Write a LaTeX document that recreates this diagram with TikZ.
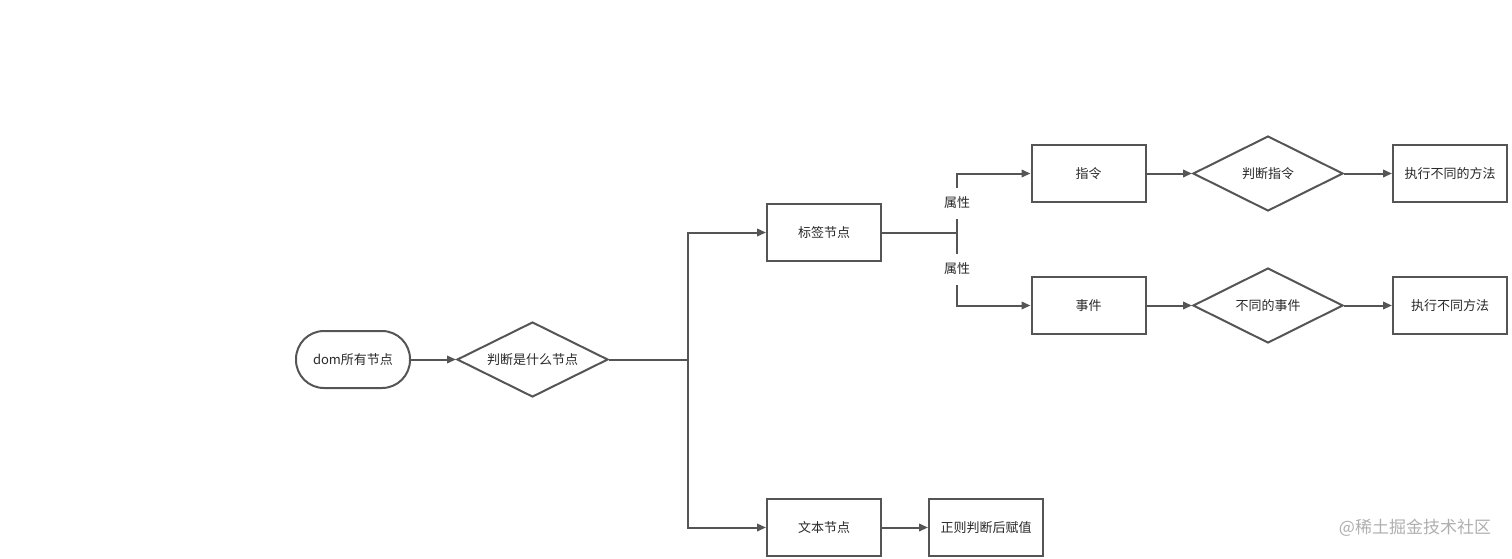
\documentclass[tikz,border=0pt]{standalone}
\usepackage{fontspec}
\setmainfont{Noto Sans CJK SC}
\usetikzlibrary{arrows.meta, positioning, shapes.geometric}
\definecolor{linecolor}{RGB}{85, 85, 85}
\definecolor{textcolor}{RGB}{40, 40, 40}
\definecolor{markcolor}{RGB}{175, 175, 175}
\tikzset{
	baseblock/.style={
		rectangle, minimum width=114pt, minimum height=57pt,
		align=center, font=\fontsize{13}{15}\selectfont, text=textcolor,
		draw=linecolor, line width=2pt, inner sep=0pt
	},
	startblock/.style={
		baseblock, rounded corners=28pt
	},
	choiceblock/.style={
		diamond, minimum width=151pt, minimum height=75pt, aspect=2,
		font=\fontsize{13}{15}\selectfont, text=textcolor,
		draw=linecolor, line width=2pt, inner sep=0pt
	},
	arrow/.style={
		-{Triangle[length=9pt, width=7.5pt]}, line width=2pt, color=linecolor
	},
	plainline/.style={
		line width=2pt, color=linecolor
	},
	attrlabel/.style={
		fill=white, inner sep=0pt, minimum height=31pt,
		font=\fontsize{13}{15}\selectfont, text=textcolor
	}
}

\begin{document}
\begin{tikzpicture}[x=1pt, y=-1pt]
		\useasboundingbox (0,0) rectangle (1512,558);
		
		%% ═══════════════════════════════
		%%  START + FIRST CHOICE
		%% ═══════════════════════════════
		\node[startblock] (domall) at (353,359.5) {dom所有节点};
		\node[choiceblock] (nodetype) at (532.5,359.5) {判断是什么节点};
		
		%% ═══════════════════════════════
		%%  TAG / TEXT NODES
		%% ═══════════════════════════════
		\node[baseblock] (tagnode)  at (824,232.5) {标签节点};
		\node[baseblock] (textnode) at (824,527.5) {文本节点};
		\node[baseblock] (regexset) at (986,527.5) {正则判断后赋值};
		
		%% ═══════════════════════════════
		%%  DIRECTIVE / EVENT CHAIN
		%% ═══════════════════════════════
		\node[baseblock] (directive) at (1088.5,173.5) {指令};
		\node[baseblock] (event)     at (1088.5,305.5) {事件};
		
		\node[choiceblock, minimum width=150pt] (dirtype) at (1268,173.5) {判断指令};
		\node[choiceblock, minimum width=150pt] (evtype)  at (1268,305.5) {不同的事件};
		
		\node[baseblock] (runmethod) at (1450,173.5) {执行不同的方法};
		\node[baseblock] (runevent)  at (1450,305.5) {执行不同方法};
		
		%% ═══════════════════════════════
		%%  ARROWS
		%% ═══════════════════════════════
		\coordinate (split) at (688,359.5);
		\coordinate (attr)  at (957,232.5);
		
		% start → choice
		\draw[arrow] (domall) -- (nodetype);
		
		% choice → tag / text
		\draw[plainline] (nodetype.east) -- (split);
		\draw[arrow] (split) |- (tagnode.west);
		\draw[arrow] (split) |- (textnode.west);
		\draw[arrow] (textnode) -- (regexset);
		
		% tag → directive / event
		\draw[plainline] (tagnode.east) -- (attr);
		\draw[arrow] (attr) |- node[attrlabel, pos=0.25] {属性} (directive.west);
		\draw[arrow] (attr) |- node[attrlabel, pos=0.25] {属性} (event.west);
		
		% chains
		\draw[arrow] (directive) -- (dirtype);
		\draw[arrow] (dirtype)   -- (runmethod);
		\draw[arrow] (event)     -- (evtype);
		\draw[arrow] (evtype)    -- (runevent);
		
		%% ═══════════════════════════════
		%%  WATERMARK
		%% ═══════════════════════════════
		\node[font=\fontsize{17}{19}\selectfont, text=markcolor] (mark) at (1415,528) {@稀土掘金技术社区};
	\end{tikzpicture}
\end{document}
